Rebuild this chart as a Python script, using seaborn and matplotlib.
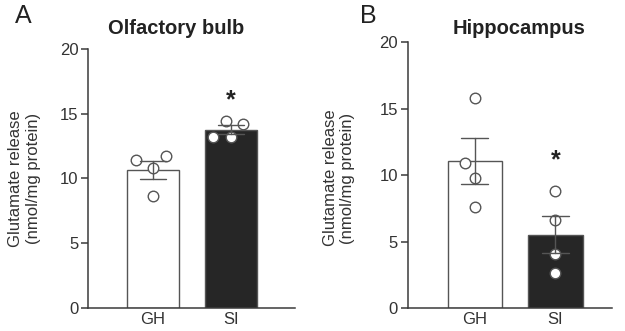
import numpy as np
import pandas as pd
import seaborn as sns
import matplotlib
matplotlib.use('Agg')
import matplotlib.pyplot as plt

# Data (nmol/mg protein)
groups = ['GH', 'SI']
ob_gh = [11.4, 11.76, 10.84, 8.65]
ob_si = [14.2, 14.46, 13.18, 13.23]
hc_gh = [15.8, 10.92, 9.82, 7.64]
hc_si = [8.84, 6.64, 4.06, 2.63]
titles = ['Olfactory bulb', 'Hippocampus']
letters = ['A', 'B']
yticks = [0, 5, 10, 15, 20]

sns.set_theme(style='ticks')
plt.rcParams['font.family'] = ['Liberation Sans', 'DejaVu Sans']

grey = '#555555'
dark = '#262626'
dot_size = 7.6      # drawn marker size
swarm_size = 11.5   # size used only to lay out the swarm (spreads points more)


def make_df(gh, si):
    return pd.DataFrame({'group': ['GH'] * len(gh) + ['SI'] * len(si),
                         'value': gh + si})


fig = plt.figure(figsize=(6.25, 3.31), dpi=100)
ax_a = fig.add_axes([0.1408, 0.0695, 0.3312, 0.7825])
ax_b = fig.add_axes([0.6523, 0.0686, 0.3269, 0.8036])

panels = [
    (ax_a, make_df(ob_gh, ob_si), (-0.83, 1.82), -0.228, 0.5, 15.5, 1.25),
    (ax_b, make_df(hc_gh, hc_si), (-0.83, 1.70), -0.258, 0.49, 10.6, 1.15),
]

for ax, df, xlim, lab_x, lab_y, star_y, lsp in panels:
    sns.barplot(data=df, x='group', y='value', hue='group', order=groups,
                palette={'GH': 'white', 'SI': dark}, legend=False,
                errorbar='se', capsize=0.34, width=0.67,
                edgecolor=grey, linewidth=1.0,
                err_kws={'color': grey, 'linewidth': 1.0}, ax=ax)
    sns.swarmplot(data=df, x='group', y='value', order=groups,
                  color='white', edgecolor=grey, linewidth=1.0,
                  size=swarm_size, ax=ax)
    # error bars drawn on top of the points, as in the original
    for ln in ax.lines:
        ln.set_zorder(5)
    for coll in ax.collections:
        coll.set_zorder(4)

    ax.set_ylim(0, 20)
    ax.set_xlim(*xlim)
    ax.set_yticks(yticks)
    ax.set_xlabel('')
    ax.set_ylabel('Glutamate release\n(nmol/mg protein)', fontsize=12,
                  color='#333333', linespacing=lsp)
    ax.yaxis.set_label_coords(lab_x, lab_y)
    sns.despine(ax=ax)
    for s in ['left', 'bottom']:
        ax.spines[s].set_color('#3a3a3a')
        ax.spines[s].set_linewidth(1.1)
    ax.tick_params(axis='y', length=5, width=1.1, color='#3a3a3a',
                   labelsize=12, labelcolor='#333333', pad=2)
    ax.tick_params(axis='x', length=0, labelsize=12, labelcolor='#333333',
                   pad=3)
    ax.text(1, star_y, '*', ha='center', va='baseline', fontsize=18,
            fontweight='bold', color='#222222')

fig.text(0.282, 0.897, titles[0], ha='center', va='baseline',
         fontsize=14.5, fontweight='bold', color='#222222')
fig.text(0.830, 0.897, titles[1], ha='center', va='baseline',
         fontsize=14.5, fontweight='bold', color='#222222')
fig.text(0.024, 0.93, letters[0], ha='left', va='baseline',
         fontsize=18, color='#222222')
fig.text(0.576, 0.93, letters[1], ha='left', va='baseline',
         fontsize=18, color='#222222')

# lay out the swarm once, then freeze positions and shrink the markers
fig.canvas.draw()
for ax in (ax_a, ax_b):
    for coll in ax.collections:
        if 'draw' in coll.__dict__:
            del coll.draw
            coll.set_sizes([dot_size ** 2])

fig.savefig('out.png', dpi=100)
